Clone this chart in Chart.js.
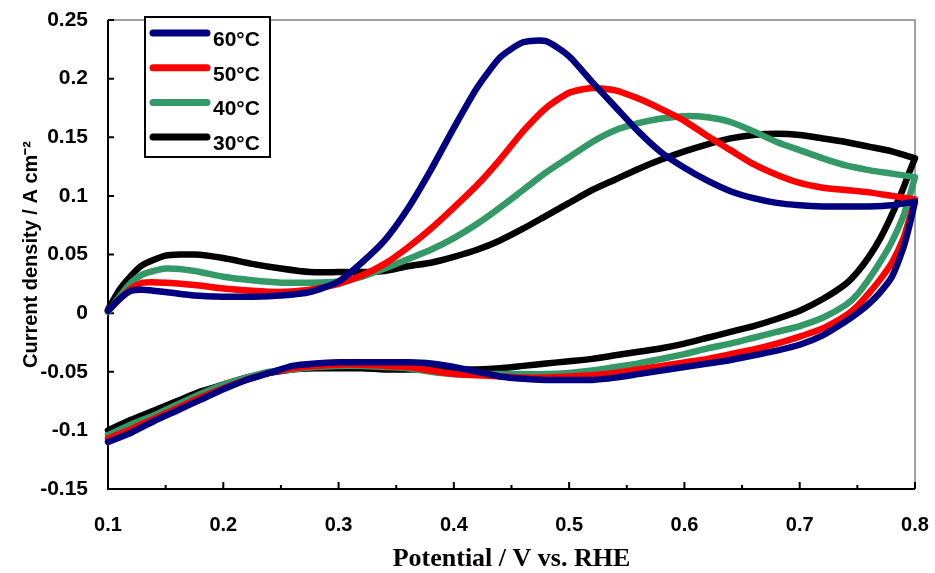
<!DOCTYPE html>
<html lang="en">
<head>
  <meta charset="UTF-8" />
  <title>Cyclic voltammograms</title>
  <script src="https://cdn.jsdelivr.net/npm/chart.js"></script>
  <style>
    body { margin: 0; background: #fff; }
    .chart-box { width: 935px; height: 573px; }
  </style>
</head>
<body>
  <div class="chart-box"><canvas id="cvChart"></canvas></div>
  <script>
    // forward scan 0.1 -> 0.8 V, then back 0.8 -> 0.1 V
    const fwdPotential = [0.10, 0.11, 0.12, 0.13, 0.15, 0.175, 0.20, 0.225, 0.25, 0.275, 0.30,
      0.32, 0.34, 0.36, 0.38, 0.40, 0.42, 0.44, 0.46, 0.48, 0.50, 0.52, 0.54, 0.56, 0.58,
      0.60, 0.62, 0.64, 0.66, 0.68, 0.70, 0.72, 0.74, 0.76, 0.78, 0.80];
    const revPotential = [0.80, 0.795, 0.79, 0.78, 0.77, 0.76, 0.75, 0.74, 0.72, 0.70,
      0.68, 0.66, 0.64, 0.62, 0.60, 0.58, 0.56, 0.54, 0.52, 0.50, 0.48, 0.46, 0.44, 0.42,
      0.40, 0.38, 0.36, 0.34, 0.32, 0.30, 0.28, 0.26, 0.24, 0.22, 0.20, 0.18, 0.16, 0.14, 0.12, 0.10];

    const fwd60 = [0.002, 0.012, 0.019, 0.020, 0.018, 0.015, 0.014, 0.014, 0.015, 0.018, 0.027,
      0.043, 0.062, 0.089, 0.122, 0.158, 0.192, 0.218, 0.231, 0.232, 0.219, 0.197, 0.176, 0.155, 0.137,
      0.124, 0.113, 0.104, 0.098, 0.094, 0.092, 0.091, 0.091, 0.091, 0.092, 0.095];
    const rev60 = [0.095, 0.074, 0.056, 0.031, 0.018, 0.008, 0.000, -0.007, -0.019, -0.027,
      -0.032, -0.036, -0.040, -0.043, -0.046, -0.049, -0.052, -0.055, -0.057, -0.057, -0.057, -0.056, -0.054, -0.050,
      -0.046, -0.043, -0.042, -0.042, -0.042, -0.042, -0.043, -0.045, -0.051, -0.057, -0.065, -0.074, -0.083, -0.092, -0.102, -0.110];

    const fwd50 = [0.002, 0.012, 0.021, 0.026, 0.026, 0.024, 0.021, 0.019, 0.018, 0.020, 0.025,
      0.032, 0.042, 0.056, 0.072, 0.090, 0.109, 0.131, 0.155, 0.175, 0.188, 0.192, 0.190, 0.183, 0.174,
      0.164, 0.151, 0.139, 0.127, 0.118, 0.111, 0.107, 0.105, 0.103, 0.100, 0.097];
    const rev50 = [0.097, 0.080, 0.064, 0.043, 0.029, 0.017, 0.006, -0.002, -0.013, -0.020,
      -0.026, -0.031, -0.035, -0.039, -0.042, -0.045, -0.048, -0.051, -0.053, -0.054, -0.055, -0.055, -0.054, -0.053,
      -0.052, -0.049, -0.046, -0.045, -0.044, -0.044, -0.045, -0.047, -0.051, -0.057, -0.064, -0.072, -0.081, -0.090, -0.099, -0.107];

    const fwd40 = [0.001, 0.014, 0.026, 0.033, 0.038, 0.036, 0.031, 0.028, 0.026, 0.026, 0.027,
      0.031, 0.038, 0.046, 0.054, 0.064, 0.076, 0.090, 0.105, 0.120, 0.133, 0.146, 0.156, 0.162, 0.166,
      0.168, 0.167, 0.163, 0.155, 0.146, 0.139, 0.132, 0.126, 0.122, 0.119, 0.116];
    const rev40 = [0.116, 0.099, 0.083, 0.061, 0.044, 0.029, 0.016, 0.007, -0.004, -0.011,
      -0.016, -0.021, -0.026, -0.030, -0.035, -0.039, -0.043, -0.046, -0.049, -0.051, -0.052, -0.052, -0.052, -0.052,
      -0.052, -0.050, -0.047, -0.046, -0.045, -0.045, -0.046, -0.048, -0.050, -0.055, -0.061, -0.069, -0.078, -0.087, -0.095, -0.104];

    const fwd30 = [0.003, 0.020, 0.032, 0.041, 0.049, 0.050, 0.047, 0.042, 0.038, 0.035, 0.035,
      0.035, 0.036, 0.040, 0.043, 0.048, 0.054, 0.062, 0.072, 0.083, 0.094, 0.105, 0.114, 0.123, 0.131,
      0.138, 0.144, 0.149, 0.152, 0.153, 0.152, 0.149, 0.146, 0.142, 0.138, 0.132];
    const rev30 = [0.132, 0.120, 0.107, 0.084, 0.064, 0.048, 0.035, 0.025, 0.012, 0.002,
      -0.005, -0.011, -0.016, -0.021, -0.026, -0.030, -0.033, -0.036, -0.039, -0.041, -0.043, -0.045, -0.047, -0.048,
      -0.048, -0.048, -0.048, -0.048, -0.047, -0.047, -0.047, -0.048, -0.051, -0.055, -0.061, -0.067, -0.075, -0.083, -0.091, -0.100];

    const xTicks = [0.1, 0.2, 0.3, 0.4, 0.5, 0.6, 0.7, 0.8];
    const xTickLabels = ['0.1', '0.2', '0.3', '0.4', '0.5', '0.6', '0.7', '0.8'];
    const xMinorTicks = [0.15, 0.25, 0.35, 0.45, 0.55, 0.65, 0.75];
    const yTicks = [-0.15, -0.1, -0.05, 0, 0.05, 0.1, 0.15, 0.2, 0.25];
    const yTickLabels = ['-0.15', '-0.1', '-0.05', '0', '0.05', '0.1', '0.15', '0.2', '0.25'];

    const sans = '"Liberation Sans", Arial, sans-serif';

    function loop(fwd, rev) {
      const pts = fwdPotential.map((v, i) => ({ x: v, y: fwd[i] }));
      return pts.concat(revPotential.map((v, i) => ({ x: v, y: rev[i] })));
    }

    function series(label, fwd, rev, color) {
      return {
        label,
        data: loop(fwd, rev),
        showLine: true,
        borderColor: color,
        backgroundColor: color,
        borderWidth: 6.5,
        pointRadius: 0,
        tension: 0.2,
        borderCapStyle: 'round',
        borderJoinStyle: 'round',
        clip: 5
      };
    }

    // keep the plot box fixed: no extra room for the end labels
    function fixBox(size) {
      return s => {
        if (s.isHorizontal()) s.height = size; else s.width = size;
        s.paddingLeft = 0; s.paddingRight = 0; s.paddingTop = 0; s.paddingBottom = 0;
      };
    }

    // axis frame with inward tick marks
    const framePlugin = {
      id: 'frame',
      beforeDatasetsDraw(chart) {
        const { ctx, chartArea: a, scales: { x, y } } = chart;
        ctx.save();
        ctx.strokeStyle = '#a0a0a0';
        ctx.lineWidth = 2;
        ctx.beginPath();
        ctx.moveTo(a.left, a.top);
        ctx.lineTo(a.right, a.top);
        ctx.lineTo(a.right, a.bottom);
        ctx.stroke();

        ctx.strokeStyle = '#000';
        ctx.beginPath();
        xTicks.forEach(v => {
          const px = x.getPixelForValue(v);
          ctx.moveTo(px, a.bottom);
          ctx.lineTo(px, a.bottom - 7);
        });
        xMinorTicks.forEach(v => {
          const px = x.getPixelForValue(v);
          ctx.moveTo(px, a.bottom);
          ctx.lineTo(px, a.bottom - 4);
        });
        yTicks.forEach(v => {
          const py = y.getPixelForValue(v);
          ctx.moveTo(a.left, py);
          ctx.lineTo(a.left + 6, py);
        });
        ctx.moveTo(a.left, a.top);
        ctx.lineTo(a.left, a.bottom);
        ctx.lineTo(a.right, a.bottom);
        ctx.stroke();
        ctx.restore();
      }
    };

    // boxed legend in the upper left of the plot
    const boxLegend = {
      id: 'boxLegend',
      afterDraw(chart) {
        const { ctx, chartArea: a } = chart;
        const left = a.left + 37, top = a.top - 3;
        ctx.save();
        ctx.fillStyle = '#fff';
        ctx.fillRect(left, top, 125, 140);
        ctx.strokeStyle = '#000';
        ctx.lineWidth = 2;
        ctx.strokeRect(left, top, 125, 140);
        ctx.font = 'bold 21px ' + sans;
        ctx.textBaseline = 'alphabetic';
        chart.data.datasets.forEach((ds, i) => {
          const yy = top + 16 + i * 34.7;
          ctx.strokeStyle = ds.borderColor;
          ctx.lineWidth = 7;
          ctx.lineCap = 'round';
          ctx.beginPath();
          ctx.moveTo(left + 8, yy);
          ctx.lineTo(left + 62, yy);
          ctx.stroke();
          ctx.fillStyle = '#000';
          ctx.fillText(ds.label, left + 68, yy + 13);
        });
        ctx.restore();
      }
    };

    new Chart(document.getElementById('cvChart'), {
      type: 'scatter',
      data: {
        datasets: [
          series('60°C', fwd60, rev60, '#000080'),
          series('50°C', fwd50, rev50, '#ff0000'),
          series('40°C', fwd40, rev40, '#339966'),
          series('30°C', fwd30, rev30, '#000000')
        ]
      },
      options: {
        responsive: true,
        maintainAspectRatio: false,
        animation: false,
        layout: { padding: { top: 20, right: 20, left: 0, bottom: 0 } },
        plugins: {
          legend: { display: false },
          tooltip: { enabled: false }
        },
        scales: {
          x: {
            type: 'linear',
            min: 0.1,
            max: 0.8,
            afterFit: fixBox(84),
            afterBuildTicks: s => { s.ticks = xTicks.map(v => ({ value: v })); },
            grid: { display: false, drawTicks: false },
            border: { display: false },
            ticks: {
              padding: 24,
              color: '#000',
              font: { family: sans, size: 20, weight: 'bold' },
              callback: (v, i) => xTickLabels[i]
            },
            title: {
              display: true,
              text: 'Potential / V vs. RHE',
              color: '#000',
              padding: { top: 0, bottom: 1 },
              font: { family: '"Liberation Serif", "Times New Roman", serif', size: 26, weight: 'bold', lineHeight: 1 }
            }
          },
          y: {
            min: -0.15,
            max: 0.25,
            afterFit: fixBox(108),
            afterBuildTicks: s => { s.ticks = yTicks.map(v => ({ value: v })); },
            grid: { display: false, drawTicks: false },
            border: { display: false },
            ticks: {
              padding: 20,
              color: '#000',
              font: { family: sans, size: 21, weight: 'bold' },
              callback: (v, i) => yTickLabels[i]
            },
            title: {
              display: true,
              text: 'Current density / A cm⁻²',
              color: '#000',
              padding: { top: 21, bottom: 0 },
              font: { family: sans, size: 20, weight: 'bold', lineHeight: 1 }
            }
          }
        }
      },
      plugins: [framePlugin, boxLegend]
    });
  </script>
</body>
</html>
